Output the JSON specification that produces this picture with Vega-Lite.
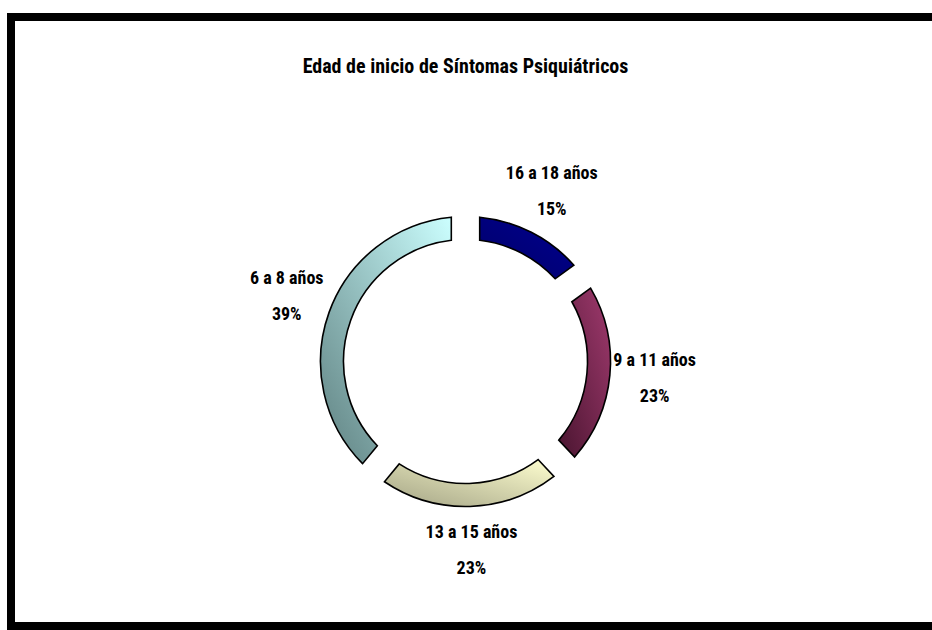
{
  "$schema": "https://vega.github.io/schema/vega-lite/v6.json",
  "width": 921,
  "height": 609,
  "autosize": "none",
  "padding": {"left": 11, "top": 17, "right": 0, "bottom": 4},
  "background": "white",
  "config": {"view": {"stroke": "black", "strokeWidth": 8, "fill": "white", "strokeDash": [921, 609, 1600, 0]}},
  "view": {"stroke": "black", "strokeWidth": 8, "fill": "white", "strokeDash": [921, 609, 1600, 0], "strokeCap": "butt"},
  "title": {
    "text": "Edad de inicio de Síntomas Psiquiátricos",
    "font": "Roboto Condensed, Liberation Sans Narrow, Liberation Sans, sans-serif",
    "fontSize": 20,
    "fontWeight": "bold",
    "color": "black",
    "anchor": "middle",
    "frame": "group",
    "dx": -6,
    "offset": -60
  },
  "data": {
    "values": [
      {"order": 1, "label": "16 a 18 años", "value": 0.15},
      {"order": 2, "label": "9 a 11 años", "value": 0.23},
      {"order": 3, "label": "13 a 15 años", "value": 0.23},
      {"order": 4, "label": "6 a 8 años", "value": 0.39}
    ]
  },
  "encoding": {
    "theta": {"field": "value", "type": "quantitative", "stack": true},
    "order": {"field": "order", "type": "quantitative"}
  },
  "layer": [
    {
      "mark": {"type": "arc", "outerRadius": 145, "innerRadius": 122, "padAngle": 0.15, "stroke": "black", "strokeWidth": 1.6, "yOffset": 40, "xOffset": -6},
      "encoding": {
        "fill": {
          "condition": [
            {"test": "datum.order === 1", "value": {"gradient": "linear", "x1": 1, "y1": 0, "x2": 0, "y2": 1, "stops": [{"offset": 0, "color": "#000090"}, {"offset": 1, "color": "#000068"}]}},
            {"test": "datum.order === 2", "value": {"gradient": "linear", "x1": 1, "y1": 0, "x2": 0, "y2": 1, "stops": [{"offset": 0, "color": "#a03a6e"}, {"offset": 1, "color": "#4a1530"}]}},
            {"test": "datum.order === 3", "value": {"gradient": "linear", "x1": 1, "y1": 0, "x2": 0, "y2": 1, "stops": [{"offset": 0, "color": "#ffffd0"}, {"offset": 1, "color": "#a3a385"}]}}
          ],
          "value": {"gradient": "linear", "x1": 1, "y1": 0, "x2": 0, "y2": 1, "stops": [{"offset": 0, "color": "#ccffff"}, {"offset": 1, "color": "#5e8080"}]}
        }
      }
    },
    {
      "mark": {"type": "text", "radius": 190, "dy": -18, "yOffset": 40, "xOffset": -6, "font": "Roboto Condensed, Liberation Sans Narrow, Liberation Sans, sans-serif", "fontSize": 18, "fontWeight": "bold", "color": "black"},
      "encoding": {"text": {"field": "label", "type": "nominal"}}
    },
    {
      "mark": {"type": "text", "radius": 190, "dy": 18, "yOffset": 40, "xOffset": -6, "font": "Roboto Condensed, Liberation Sans Narrow, Liberation Sans, sans-serif", "fontSize": 18, "fontWeight": "bold", "color": "black"},
      "encoding": {"text": {"field": "value", "type": "quantitative", "format": ".0%"}}
    }
  ]
}
